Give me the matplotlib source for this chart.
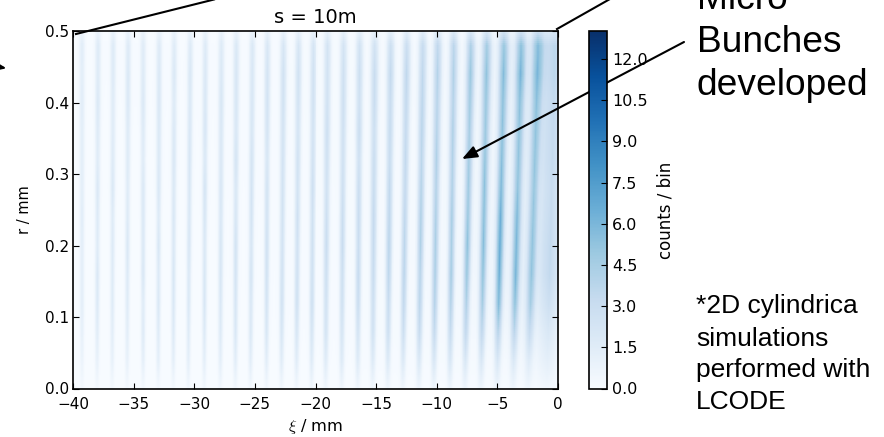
import numpy as np
import matplotlib
matplotlib.use("Agg")
import matplotlib.pyplot as plt

# Micro-bunch centres (mm), read near the axis and near the outer edge
xi_inner = [-39.26,-38.02,-36.78,-35.55,-34.23,-32.99,-31.75,-30.52,-29.20,-27.88,-26.64,
            -25.40,-24.08,-22.85,-21.61,-20.37,-19.13,-17.81,-16.49,-15.26,-14.02,-12.78,
            -11.46,-10.23,-8.91,-7.67,-6.35,-5.03,-3.71,-2.47,-0.91]
xi_outer = [-39.26,-37.94,-36.70,-35.46,-34.23,-32.91,-31.67,-30.35,-29.11,-27.79,-26.56,
            -25.24,-24.00,-22.68,-21.44,-20.21,-18.97,-17.65,-16.33,-15.09,-13.77,-12.45,
            -11.13,-9.90,-8.58,-7.18,-5.86,-4.45,-3.05,-1.65,-0.25]
# Radial stations (mm) and the counts/bin seen on each bunch at each station
r_stations = [0.0,0.04,0.08,0.12,0.16,0.20,0.24,0.28,0.32,0.36,0.40,0.44,0.48,0.50]
bunch_peak = [
 [.3,.8,1.1,1.3,1.3,1.3,1.4,1.3,1.3,1.3,1.4,1.3,1.4,.8],
 [.3,1.0,1.4,1.7,1.8,1.5,1.6,1.8,1.5,1.6,1.8,1.6,1.6,.9],
 [.3,1.0,1.3,1.5,1.5,1.6,1.5,1.8,1.6,1.5,1.5,1.6,1.6,.9],
 [.3,1.0,1.3,1.5,1.6,1.8,1.6,1.5,1.6,1.6,1.8,1.8,1.6,.9],
 [.3,1.2,1.6,1.5,1.9,1.8,1.8,1.8,1.5,1.6,1.8,1.6,1.5,.9],
 [.3,1.2,1.5,1.8,1.6,1.9,1.6,1.9,1.8,1.8,1.9,1.8,1.6,.9],
 [.3,1.2,1.6,1.8,1.9,1.8,1.9,1.8,1.9,1.8,1.6,1.8,1.5,.9],
 [.4,1.2,1.5,1.8,1.8,2.0,1.9,1.9,2.0,1.9,1.8,1.9,1.6,.9],
 [.4,1.2,1.6,1.9,1.9,1.8,2.0,2.2,1.8,2.0,1.9,1.8,1.6,.9],
 [.4,1.2,1.6,1.8,2.0,2.0,1.9,2.0,1.9,1.9,2.0,1.8,1.6,.9],
 [.4,1.3,1.8,2.0,2.2,2.3,2.0,1.9,2.2,1.9,2.0,2.0,1.8,.9],
 [.4,1.3,1.8,1.9,2.2,2.0,2.2,2.2,2.2,2.0,2.0,1.9,1.8,.9],
 [.4,1.3,1.9,2.2,2.4,2.5,2.3,2.3,2.0,2.2,2.3,2.2,1.9,1.0],
 [.4,1.4,2.0,2.4,2.4,2.3,2.3,2.3,2.3,2.3,2.4,2.4,2.0,1.0],
 [.4,1.4,2.0,2.5,2.5,2.4,2.5,2.3,2.4,2.2,2.3,2.4,2.0,1.0],
 [.5,1.5,2.1,2.6,2.5,2.5,2.4,2.6,2.4,2.3,2.4,2.4,2.1,1.0],
 [.5,1.5,2.2,2.4,2.6,2.8,2.6,2.4,2.5,2.6,2.4,2.3,2.2,1.1],
 [.5,1.6,2.1,2.5,2.6,2.9,2.8,2.6,2.5,2.5,2.6,2.5,2.2,1.1],
 [.5,1.6,2.2,2.8,3.0,2.8,2.9,2.8,2.5,2.8,2.5,2.6,2.3,1.1],
 [.5,1.6,2.4,2.6,2.9,3.0,3.1,2.9,2.8,2.6,2.8,2.8,2.3,1.1],
 [.5,1.7,2.6,2.9,3.4,3.6,3.4,3.2,2.9,3.0,2.9,3.1,2.6,1.2],
 [.5,1.7,2.6,3.2,3.5,3.4,3.3,3.1,3.1,3.0,3.1,3.2,2.7,1.3],
 [.6,1.8,2.9,3.5,3.6,3.9,3.9,3.7,3.4,3.5,3.4,3.2,2.9,1.4],
 [.6,1.9,3.0,3.7,4.0,4.0,3.9,3.7,3.8,3.6,3.5,3.6,3.2,1.5],
 [.6,1.9,2.9,3.7,4.2,4.0,4.1,3.8,3.7,3.8,3.6,3.7,3.4,1.6],
 [.6,1.8,3.1,3.8,4.5,4.8,4.5,4.3,4.2,4.0,4.2,4.4,3.8,1.8],
 [.6,1.8,3.2,4.1,4.7,5.0,4.9,4.8,4.6,4.3,4.4,4.6,4.1,1.9],
 [.6,1.8,3.4,5.1,5.6,5.8,5.6,5.1,4.8,4.6,4.6,4.8,4.3,2.0],
 [.5,1.6,3.1,4.4,5.0,4.9,4.8,4.3,4.2,4.2,4.3,4.8,4.2,2.0],
 [.4,1.2,2.4,3.4,3.8,3.8,3.7,3.6,3.6,3.6,3.7,4.1,3.8,1.9],
 [.3,.9,1.4,2.0,2.4,2.4,2.3,2.2,2.3,2.3,2.3,2.5,2.5,1.4],
]
# Half-width of each bunch (mm) and the pale shoulder level around it (fraction of peak)
bunch_width = [.12,.12,.12,.12,.12,.12,.12,.12,.12,.13,.13,.13,.13,.14,.14,.14,.15,.15,
               .15,.16,.16,.16,.17,.17,.17,.18,.19,.20,.21,.23,.52]
bunch_shoulder = [.05,.05,.05,.05,.05,.05,.05,.05,.05,.05,.05,.05,.05,.05,.05,.06,.06,.06,
                  .07,.07,.07,.08,.08,.09,.10,.11,.12,.14,.17,.22,.40]
# Stripe cross-section (in half-widths) and outward broadening of the stripes
profile_pos = [-3.0,-2.0,-1.0,0.0,1.0,2.0,3.0]
profile_val = [0.0,0.16,0.66,1.0,0.66,0.16,0.0]
spread_r = [0.0,0.25,0.5]
spread_val = [0.85,1.0,1.25]

cbar_ticks = [0.0,1.5,3.0,4.5,6.0,7.5,9.0,10.5,12.0]
x_ticks = [-40,-35,-30,-25,-20,-15,-10,-5,0]
y_ticks = [0.0,0.1,0.2,0.3,0.4,0.5]
W, H = 884, 437

plt.rcParams['font.family'] = 'DejaVu Sans'
plt.rcParams['mathtext.fontset'] = 'cm'
fig = plt.figure(figsize=(W/100, H/100), dpi=100)

def axrect(l, t, r, b):
    return [l/W, 1-b/H, (r-l)/W, (b-t)/H]

ax = fig.add_axes(axrect(73, 31.5, 558, 388.5))
cax = fig.add_axes(axrect(588.5, 31.5, 606.5, 388.5))

xi_edges = np.linspace(-40, 0, 487)
r_edges = np.linspace(0, 0.5, 180)
xi_c = 0.5*(xi_edges[:-1]+xi_edges[1:])
r_c = 0.5*(r_edges[:-1]+r_edges[1:])
Z = np.zeros((len(r_c), len(xi_c)))
peaks = np.array(bunch_peak)
for b in range(len(xi_inner)):
    pk = np.interp(r_c, r_stations, peaks[b])
    cen = np.interp(r_c, [0.0, 0.47], [xi_inner[b], xi_outer[b]])
    wid = bunch_width[b]*np.interp(r_c, spread_r, spread_val)
    for i in range(len(r_c)):
        core = np.interp((xi_c-cen[i])/wid[i], profile_pos, profile_val)
        wide = np.interp((xi_c-cen[i])/(2.6*wid[i]), profile_pos, profile_val)
        Z[i] += pk[i]*core + pk[i]*bunch_shoulder[b]*wide

mesh = ax.pcolormesh(xi_edges, r_edges, Z, cmap='Blues', vmin=0, vmax=13, shading='flat')
ax.set_xlim(-40, 0)
ax.set_ylim(0, 0.5)
ax.set_xticks(x_ticks)
ax.set_yticks(y_ticks)
ax.tick_params(direction='in', top=True, right=True, length=4, width=0.8, labelsize=11, pad=3)
ax.tick_params(axis='x', pad=6)
ax.set_title('s = 10m', fontsize=14, pad=6)
fig.text(315.5/W, 1-427/H, r'$\xi$ / mm', fontsize=11.7, ha='center', va='center')
fig.text(25/W, 1-210/H, 'r / mm', fontsize=10.5, rotation=90, ha='center', va='center')
for s in ax.spines.values():
    s.set_linewidth(1.2)

cb = fig.colorbar(mesh, cax=cax, ticks=cbar_ticks)
cb.ax.tick_params(direction='in', length=4, width=0.8, labelsize=11.5, pad=4)
fig.text(665/W, 1-210/H, 'counts / bin', fontsize=12, rotation=90, ha='center', va='center')
cb.outline.set_linewidth(1.2)

# Slide overlay drawn in reference pixel space
def P(x, y):
    return (x, H-y)
def overlay_line(a, b, lw=1.5):
    fig.add_artist(plt.Line2D([a[0]/W, b[0]/W], [1-a[1]/H, 1-b[1]/H], color='k', lw=lw,
                              transform=fig.transFigure, zorder=20))
overlay_line((76, 34), (214, -0.5))
overlay_line((557, 29), (610, -1))
for start, tip in [((684, 42), (462, 159)), ((-30, 62), (6.5, 68.3))]:
    ax.annotate('', xy=P(*tip), xytext=P(*start), xycoords='figure pixels', textcoords='figure pixels',
                annotation_clip=False, zorder=20,
                arrowprops=dict(arrowstyle='-|>,head_length=0.75,head_width=0.3', color='k', lw=1.5,
                                shrinkA=0, shrinkB=0, mutation_scale=12))

for txt, y in [('Micro', 9), ('Bunches', 52), ('developed', 95)]:
    fig.text(697/W, 1-y/H, txt, family='Liberation Sans', fontsize=26.7, va='baseline', ha='left')
for txt, y in [('*2D cylindrica', 313), ('simulations', 345.5), ('performed with', 377), ('LCODE', 409)]:
    fig.text(696/W, 1-y/H, txt, family='Liberation Sans', fontsize=19, va='baseline', ha='left')

fig.savefig('out.png', dpi=100)
